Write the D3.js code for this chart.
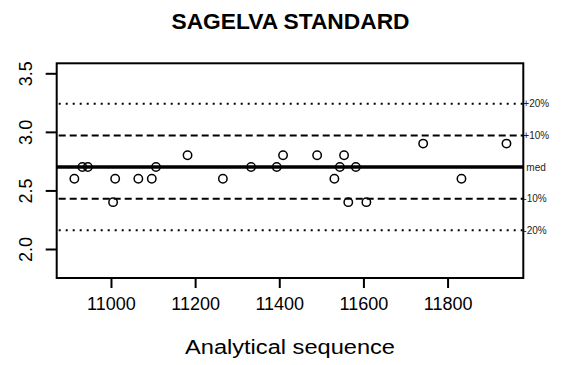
<!DOCTYPE html>
<html>
<head>
<meta charset="utf-8">
<script src="https://cdn.jsdelivr.net/npm/d3@7"></script>
<style>
  html, body { margin: 0; padding: 0; background: #fff; }
  svg { display: block; font-family: "Liberation Sans", Arial, sans-serif; }
</style>
</head>
<body>
<svg id="chart" width="563" height="365"></svg>
<script>
// ---- data ----
const chartTitle = "SAGELVA STANDARD";
const xTitle = "Analytical sequence";
const sequence = [10913, 10932, 10945, 11005, 11010, 11065, 11097, 11107, 11182, 11266,
                  11333, 11394, 11409, 11490, 11531, 11544, 11554, 11564, 11582, 11607,
                  11742, 11833, 11940];
const values   = [2.6, 2.7, 2.7, 2.4, 2.6, 2.6, 2.6, 2.7, 2.8, 2.6,
                  2.7, 2.7, 2.8, 2.8, 2.6, 2.7, 2.8, 2.4, 2.7, 2.4,
                  2.9, 2.6, 2.9];
const xTicks = [11000, 11200, 11400, 11600, 11800];
const yTicks = [2.0, 2.5, 3.0, 3.5];
const median = 2.7;
const limitValues = [3.24, 2.97, 2.43, 2.16];
const limitLabels = ["+20%", "+10%", "-10%", "-20%"];
const limitKinds  = ["dotted", "dashed", "dashed", "dotted"];

// ---- layout ----
const mLeft = 56.7, mRight = 523.3, mTop = 63.3, mBottom = 278;
const svg = d3.select("#chart");

const x = d3.scaleLinear().domain([10871, 11980]).range([mLeft, mRight]);
const y = d3.scaleLinear().domain([1.7524, 3.5854]).range([mBottom, mTop]);

// title
svg.append("text")
  .attr("x", 290.5).attr("y", 28.7)
  .attr("text-anchor", "middle")
  .attr("font-size", 22).attr("font-weight", "bold")
  .attr("textLength", 238).attr("lengthAdjust", "spacingAndGlyphs")
  .text(chartTitle);

// limit lines
const dash = { dotted: "2,5", dashed: "7,4" };
svg.append("g").selectAll("line").data(limitValues).join("line")
  .attr("x1", mLeft + 2).attr("x2", mRight)
  .attr("y1", d => y(d)).attr("y2", d => y(d))
  .attr("stroke", "#000").attr("stroke-width", 2)
  .attr("stroke-dasharray", (d, i) => dash[limitKinds[i]]);

// median line
svg.append("line")
  .attr("x1", mLeft).attr("x2", mRight)
  .attr("y1", y(median)).attr("y2", y(median))
  .attr("stroke", "#000").attr("stroke-width", 3.5);

// points
svg.append("g").selectAll("circle").data(sequence).join("circle")
  .attr("cx", d => x(d))
  .attr("cy", (d, i) => y(values[i]))
  .attr("r", 4.2)
  .attr("fill", "none")
  .attr("stroke", "#000")
  .attr("stroke-width", 1.5);

// box
svg.append("rect")
  .attr("x", mLeft).attr("y", mTop)
  .attr("width", mRight - mLeft).attr("height", mBottom - mTop)
  .attr("fill", "none").attr("stroke", "#000").attr("stroke-width", 2);

// x axis
const xAxis = d3.axisBottom(x).tickValues(xTicks).tickSize(10).tickPadding(9)
  .tickFormat(d3.format("d"));
const gx = svg.append("g").attr("transform", `translate(0,${mBottom})`).call(xAxis);
gx.select(".domain").remove();
gx.selectAll(".tick line").attr("stroke-width", 2);
gx.selectAll(".tick text").attr("font-size", 18).attr("font-family", "Liberation Sans, Arial, sans-serif").attr("fill", "#000");

// y axis
const yAxis = d3.axisLeft(y).tickValues(yTicks).tickSize(11).tickPadding(0)
  .tickFormat(d3.format(".1f"));
const gy = svg.append("g").attr("transform", `translate(${mLeft},0)`).call(yAxis);
gy.select(".domain").remove();
gy.selectAll(".tick line").attr("stroke-width", 2);
gy.selectAll(".tick text")
  .attr("font-size", 18).attr("font-family", "Liberation Sans, Arial, sans-serif").attr("fill", "#000")
  .attr("x", null).attr("dy", null)
  .attr("text-anchor", "middle")
  .attr("transform", "translate(-24.5,0) rotate(-90)");

// right labels
svg.append("g").selectAll("text").data(limitValues).join("text")
  .attr("x", mRight).attr("y", d => y(d))
  .attr("dy", "0.35em")
  .attr("font-size", 10).attr("fill", "#222")
  .text((d, i) => limitLabels[i]);
svg.append("text")
  .attr("x", mRight + 3).attr("y", y(median)).attr("dy", "0.35em")
  .attr("font-size", 10).attr("fill", "#222")
  .text("med");

// x title
svg.append("text")
  .attr("x", 290).attr("y", 354)
  .attr("text-anchor", "middle")
  .attr("font-size", 20)
  .attr("textLength", 210).attr("lengthAdjust", "spacingAndGlyphs")
  .text(xTitle);
</script>
</body>
</html>
